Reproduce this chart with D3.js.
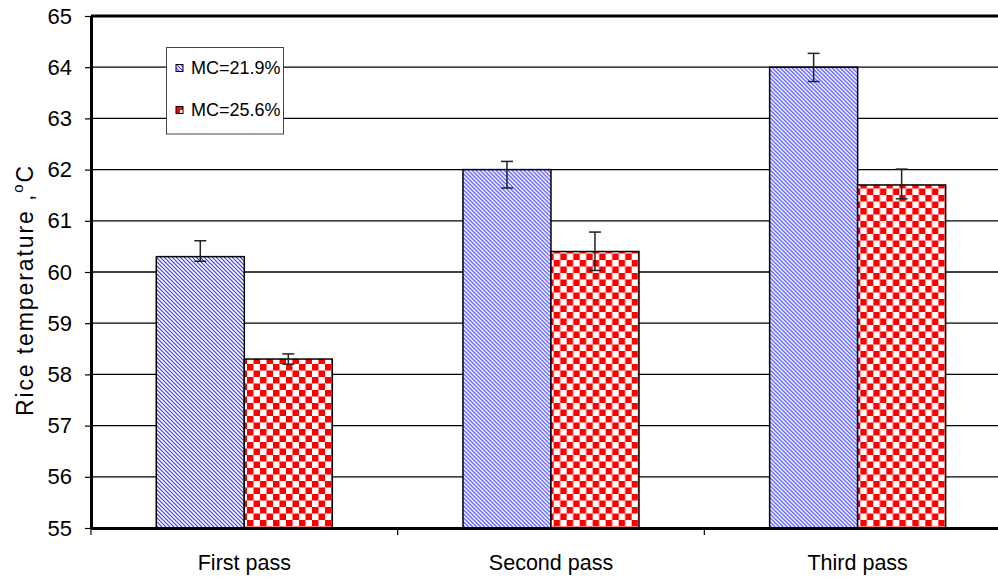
<!DOCTYPE html>
<html><head><meta charset="utf-8">
<script src="https://cdn.jsdelivr.net/npm/d3@7"></script>
<style>body{margin:0;background:#fff;}svg{display:block;font-family:Arial,"Liberation Sans",sans-serif;}</style>
</head><body>
<svg id="c" width="998" height="580"></svg>
<script>
const categories = ["First pass", "Second pass", "Third pass"];
const seriesNames = ["MC=21.9%", "MC=25.6%"];
const mc219 = [60.3, 62.0, 64.0];
const mc256 = [58.3, 60.4, 61.7];
const mc219Plus = [0.31, 0.16, 0.27];
const mc219Minus = [0.09, 0.36, 0.28];
const mc256Plus = [0.10, 0.38, 0.31];
const mc256Minus = [0.10, 0.37, 0.27];
const yTicks = [55, 56, 57, 58, 59, 60, 61, 62, 63, 64, 65];

(function(){
const svg = d3.select("#c");
const pLeft = 91, pRight = 1011, pTop = 16, pBottom = 528;
const FONT = "Arial,'Liberation Sans',sans-serif";

const defs = svg.append("defs");
const pb = defs.append("pattern").attr("id","blueP").attr("patternUnits","userSpaceOnUse")
  .attr("width",4).attr("height",4);
pb.append("rect").attr("width",4).attr("height",4).attr("fill","#fff");
pb.append("path").attr("d","M-1,-1 L5,5 M-1,3 L1,5 M3,-1 L5,1").attr("stroke","#3a3aff").attr("stroke-width",1.2);
const pr = defs.append("pattern").attr("id","redP").attr("patternUnits","userSpaceOnUse")
  .attr("width",13).attr("height",13);
pr.append("rect").attr("width",13).attr("height",13).attr("fill","#fff");
pr.append("rect").attr("width",6.5).attr("height",6.5).attr("fill","#ff0000");
pr.append("rect").attr("x",6.5).attr("y",6.5).attr("width",6.5).attr("height",6.5).attr("fill","#ff0000");
const prs = defs.append("pattern").attr("id","redS").attr("patternUnits","userSpaceOnUse")
  .attr("width",8).attr("height",8);
prs.append("rect").attr("width",8).attr("height",8).attr("fill","#ff0000");
prs.append("rect").attr("x",4).attr("y",0).attr("width",4).attr("height",4).attr("fill","#fff");

const y = d3.scaleLinear().domain([55, 65]).range([pBottom, pTop]);
const x0 = d3.scaleBand().domain(categories).range([pLeft, pRight]).padding(0);
const x1 = d3.scaleBand().domain(seriesNames).range([65.3, 241.3]).padding(0);

svg.append("g").selectAll("line").data(yTicks.filter(t=>t>55 && t<65)).join("line")
  .attr("x1", pLeft).attr("x2", pRight).attr("y1", d=>y(d)).attr("y2", d=>y(d))
  .attr("stroke","#000").attr("stroke-width",1.3);
svg.append("line").attr("x1",pLeft).attr("x2",pRight).attr("y1",y(65)).attr("y2",y(65))
  .attr("stroke","#000").attr("stroke-width",3);

const data = categories.map((c,i)=>({cat:c, vals:[
  {s:seriesNames[0], v:mc219[i], p:mc219Plus[i], m:mc219Minus[i], fill:"url(#blueP)"},
  {s:seriesNames[1], v:mc256[i], p:mc256Plus[i], m:mc256Minus[i], fill:"url(#redP)"}]}));

const g = svg.append("g").selectAll("g").data(data).join("g")
  .attr("transform", d=>`translate(${x0(d.cat)},0)`);
g.selectAll("rect").data(d=>d.vals).join("rect")
  .attr("x", d=>x1(d.s)).attr("width", x1.bandwidth())
  .attr("y", d=>y(d.v)).attr("height", d=>pBottom - y(d.v))
  .attr("fill", d=>d.fill).attr("stroke","#000").attr("stroke-width",1.5);
const eb = g.selectAll("g.eb").data(d=>d.vals).join("g").attr("class","eb")
  .attr("transform", d=>`translate(${x1(d.s)+x1.bandwidth()/2},0)`);
eb.append("line").attr("y1", d=>y(d.v+d.p)).attr("y2", d=>y(d.v-d.m)).attr("stroke","#222").attr("stroke-width",1.5);
eb.append("line").attr("x1",-6).attr("x2",6).attr("y1", d=>y(d.v+d.p)).attr("y2", d=>y(d.v+d.p)).attr("stroke","#222").attr("stroke-width",1.5);
eb.append("line").attr("x1",-6).attr("x2",6).attr("y1", d=>y(d.v-d.m)).attr("y2", d=>y(d.v-d.m)).attr("stroke","#222").attr("stroke-width",1.5);

const ya = svg.append("g").attr("transform",`translate(${pLeft},0)`)
  .call(d3.axisLeft(y).tickValues(yTicks).tickSize(6).tickPadding(13).tickSizeOuter(0));
ya.select(".domain").attr("stroke","#000").attr("stroke-width",3);
ya.selectAll(".tick line").attr("stroke","#000").attr("stroke-width",1.2);
ya.selectAll(".tick text").attr("font-size",22).attr("fill","#000").attr("font-family",FONT);

const xa = svg.append("g").attr("transform",`translate(0,${pBottom})`)
  .call(d3.axisBottom(x0).tickSize(0).tickPadding(27).tickSizeOuter(0));
xa.select(".domain").attr("stroke","#000").attr("stroke-width",3);
xa.selectAll(".tick text").attr("font-size",21.5).attr("fill","#000").attr("font-family",FONT);
svg.append("g").selectAll("line").data(categories).join("line")
  .attr("x1", d=>x0(d)).attr("x2", d=>x0(d)).attr("y1", pBottom).attr("y2", pBottom+7)
  .attr("stroke","#000").attr("stroke-width",1.2);

const yt = svg.append("text").attr("transform","translate(33,290) rotate(-90)")
  .attr("text-anchor","middle").attr("font-size",23).attr("letter-spacing",1.9).attr("fill","#000")
  .attr("font-family",FONT);
yt.append("tspan").text("Rice temperature ,");
yt.append("tspan").attr("font-size",15).attr("dy",-10).text("o");
yt.append("tspan").attr("dy",10).text("C");

const lg = svg.append("g");
lg.append("rect").attr("x",166.5).attr("y",47.5).attr("width",117).attr("height",86.5)
  .attr("fill","#fff").attr("stroke","#444").attr("stroke-width",1);
const li = lg.selectAll("g").data(seriesNames).join("g")
  .attr("transform",(d,i)=>`translate(176,${68 + i*42})`);
li.append("rect").attr("x",0).attr("y",-3.5).attr("width",7).attr("height",7)
  .attr("fill",(d,i)=>i===0?"url(#blueP)":"url(#redS)").attr("stroke","#000").attr("stroke-width",1);
li.append("text").attr("x",15).attr("y",0).attr("dy","0.35em").attr("font-size",18).attr("fill","#000")
  .attr("font-family",FONT).text(d=>d);
})();
</script>
</body></html>
